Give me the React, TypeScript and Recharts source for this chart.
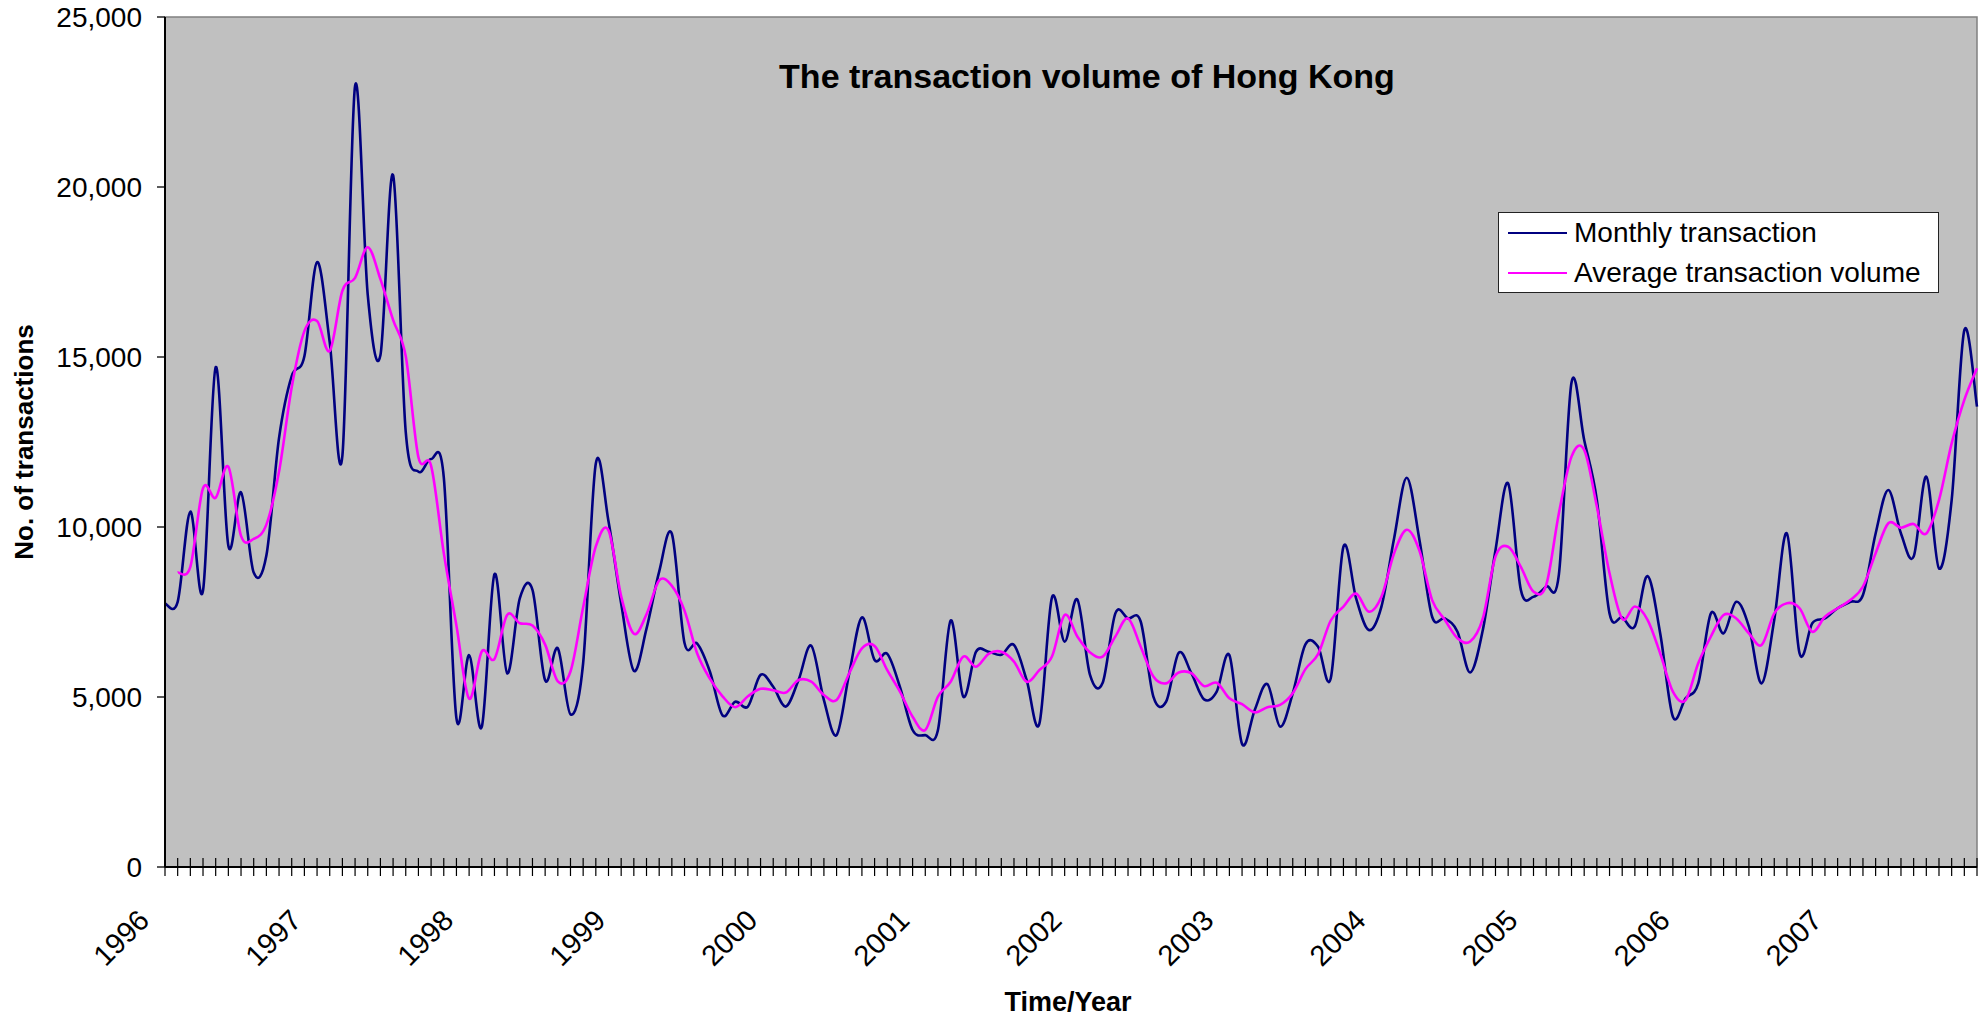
import React from 'react';
import { LineChart, Line, XAxis, YAxis, CartesianGrid, ReferenceArea } from 'recharts';

const years = ['1996', '1997', '1998', '1999', '2000', '2001', '2002', '2003', '2004', '2005', '2006', '2007'];
const categories: string[] = years.flatMap((y) =>
  Array.from({ length: 12 }, (_, m) => `${y}-${String(m + 1).padStart(2, '0')}`)
);
const yTicks = [0, 5000, 10000, 15000, 20000, 25000];

const monthlyTransaction = [
  7750, 7800, 10450, 8130, 14700, 9450, 11020, 8660, 9160, 12620, 14440, 15020,
  17790, 15430, 12100, 22970, 16830, 15050, 20350, 12790, 11630, 12000, 11470, 4370,
  6230, 4120, 8610, 5700, 7900, 8150, 5490, 6430, 4490, 6000, 11870, 10170,
  7750, 5770, 7010, 8690, 9800, 6590, 6570, 5750, 4460, 4860, 4720, 5650,
  5300, 4720, 5500, 6510, 4910, 3880, 5700, 7340, 6090, 6270, 5300, 4030,
  3880, 4030, 7250, 5010, 6330, 6330, 6240, 6530, 5500, 4210, 7930, 6630,
  7870, 5650, 5420, 7460, 7310, 7220, 5010, 4860, 6300, 5700, 4930, 5160,
  6230, 3620, 4620, 5380, 4130, 5110, 6550, 6480, 5550, 9420, 7900, 6970,
  7660, 9670, 11450, 9620, 7360, 7310, 6920, 5720, 6970, 9320, 11280, 8150,
  7950, 8250, 8590, 14250, 12560, 10790, 7460, 7340, 7080, 8560, 6870, 4420,
  4960, 5400, 7460, 6870, 7800, 7070, 5400, 7270, 9810, 6280, 7170, 7310,
  7610, 7800, 8000, 9810, 11090, 9810, 9130, 11480, 8780, 10790, 15790, 13540,
];

const averageVolume: (number | null)[] = [
  null, 8660, 8830, 11140, 10860, 11770, 9740, 9650, 10070, 11630, 14110, 15760,
  16060, 15180, 16950, 17330, 18230, 17290, 16090, 15020, 12050, 11800, 9240, 7100,
  4950, 6340, 6120, 7410, 7170, 7100, 6540, 5460, 5750, 7640, 9430, 9900,
  7960, 6860, 7430, 8430, 8270, 7540, 6280, 5540, 5020, 4700, 5020, 5240,
  5200, 5130, 5500, 5450, 5060, 4910, 5700, 6430, 6500, 5790, 5160, 4420,
  4030, 5010, 5450, 6190, 5890, 6270, 6330, 6040, 5450, 5790, 6190, 7410,
  6780, 6310, 6190, 6780, 7310, 6480, 5600, 5400, 5720, 5700, 5320, 5420,
  4960, 4790, 4550, 4700, 4770, 5110, 5820, 6260, 7250, 7660, 8040, 7510,
  7950, 9230, 9920, 9300, 7850, 7270, 6730, 6630, 7310, 9130, 9420, 8830,
  8100, 8290, 10400, 12070, 12270, 10600, 8640, 7300, 7660, 7270, 6280, 5160,
  4910, 5990, 6780, 7410, 7310, 6870, 6530, 7460, 7760, 7610, 6920, 7360,
  7610, 7850, 8250, 9230, 10110, 9980, 10090, 9810, 10790, 12460, 13740, 14670,
];

const data = categories.map((c, i) => ({
  month: c,
  monthly: monthlyTransaction[i],
  average: averageVolume[i],
}));

const FONT = '"Liberation Sans", Arial, Helvetica, sans-serif';
const NAVY = '#000080';
const MAGENTA = '#FF00FF';

// Excel-like smoothed line (Catmull-Rom through every point)
function excelSmooth(context: any) {
  let pts: number[][] = [];
  return {
    areaStart() {},
    areaEnd() {},
    lineStart() {
      pts = [];
    },
    point(x: number, y: number) {
      pts.push([+x, +y]);
    },
    lineEnd() {
      const n = pts.length;
      if (!n) return;
      context.moveTo(pts[0][0], pts[0][1]);
      for (let i = 0; i < n - 1; i++) {
        const p0 = pts[i - 1] || pts[i];
        const p1 = pts[i];
        const p2 = pts[i + 1];
        const p3 = pts[i + 2] || pts[i + 1];
        context.bezierCurveTo(
          p1[0] + (p2[0] - p0[0]) / 6,
          p1[1] + (p2[1] - p0[1]) / 6,
          p2[0] - (p3[0] - p1[0]) / 6,
          p2[1] - (p3[1] - p1[1]) / 6,
          p2[0],
          p2[1]
        );
      }
    },
  };
}

const XTick = (props: any) => {
  const { x, y, payload } = props;
  const v: string = String(payload.value);
  const isYear = v.endsWith('-01');
  const ax = x - 14;
  const ay = y + 55;
  return (
    <g>
      <line x1={x} x2={x} y1={y - 9} y2={y + 9} stroke="#000" strokeWidth={1.2} />
      {isYear && (
        <text
          x={ax}
          y={ay}
          textAnchor="end"
          transform={`rotate(-45, ${ax}, ${ay})`}
          fontSize={29}
          fontFamily={FONT}
          fill="#000"
        >
          {v.slice(0, 4)}
        </text>
      )}
    </g>
  );
};

const fmt = (v: number) => v.toLocaleString('en-US');

export default function App() {
  return (
    <div
      style={{
        position: 'absolute',
        left: 0,
        top: 0,
        width: 1984,
        height: 1017,
        background: '#fff',
        overflow: 'hidden',
        fontFamily: FONT,
      }}
    >
      <LineChart
        width={1984}
        height={1017}
        data={data}
        margin={{ top: 17, right: 7, bottom: 0, left: 0 }}
      >
        <CartesianGrid fill="#C0C0C0" horizontal={false} vertical={false} stroke="none" />
        <ReferenceArea
          x1={categories[0]}
          x2={categories[categories.length - 1]}
          y1={0}
          y2={25000}
          fill="none"
          stroke="#808080"
          strokeWidth={1.5}
        />
        <XAxis
          dataKey="month"
          interval={0}
          height={150}
          tickSize={0}
          tickMargin={0}
          tickLine={false}
          tick={<XTick />}
          axisLine={{ stroke: '#000', strokeWidth: 2 }}
        />
        <YAxis
          width={165}
          domain={[0, 25000]}
          ticks={yTicks}
          tickFormatter={fmt}
          tickSize={8}
          tickMargin={15}
          tickLine={{ stroke: '#000', strokeWidth: 1.3 }}
          axisLine={{ stroke: '#000', strokeWidth: 2 }}
          tick={{ fontSize: 28, fill: '#000', fontFamily: FONT }}
          interval={0}
        />
        <Line
          dataKey="monthly"
          type={excelSmooth as any}
          stroke={NAVY}
          strokeWidth={2.6}
          dot={false}
          activeDot={false}
          isAnimationActive={false}
        />
        <Line
          dataKey="average"
          type={excelSmooth as any}
          stroke={MAGENTA}
          strokeWidth={2.6}
          dot={false}
          activeDot={false}
          isAnimationActive={false}
        />
      </LineChart>

      {/* Title */}
      <div
        style={{
          position: 'absolute',
          left: 1087 - 500,
          top: 59,
          width: 1000,
          textAlign: 'center',
          fontSize: 34,
          lineHeight: '34px',
          fontWeight: 'bold',
          color: '#000',
          whiteSpace: 'nowrap',
        }}
      >
        The transaction volume of Hong Kong
      </div>

      {/* X axis title */}
      <div
        style={{
          position: 'absolute',
          left: 1068 - 200,
          top: 989,
          width: 400,
          textAlign: 'center',
          fontSize: 27,
          lineHeight: '27px',
          fontWeight: 'bold',
          color: '#000',
          whiteSpace: 'nowrap',
        }}
      >
        Time/Year
      </div>

      {/* Y axis title */}
      <div
        style={{
          position: 'absolute',
          left: 24 - 200,
          top: 442 - 13,
          width: 400,
          height: 26,
          textAlign: 'center',
          fontSize: 26,
          lineHeight: '26px',
          fontWeight: 'bold',
          color: '#000',
          whiteSpace: 'nowrap',
          transform: 'rotate(-90deg)',
        }}
      >
        No. of transactions
      </div>

      {/* Legend */}
      <div
        style={{
          position: 'absolute',
          left: 1498,
          top: 212,
          width: 441,
          height: 81,
          boxSizing: 'border-box',
          border: '1.5px solid #222',
          background: '#fff',
        }}
      >
        {[
          { label: 'Monthly transaction', color: NAVY },
          { label: 'Average transaction volume', color: MAGENTA },
        ].map((item, k) => (
          <div
            key={item.label}
            style={{
              position: 'absolute',
              left: 0,
              top: 0 + k * 40,
              height: 40,
              width: '100%',
              display: 'flex',
              alignItems: 'center',
            }}
          >
            <div style={{ marginLeft: 9, width: 59, height: 2.6, background: item.color }} />
            <div style={{ marginLeft: 7, fontSize: 28, lineHeight: '28px', color: '#000', whiteSpace: 'nowrap' }}>
              {item.label}
            </div>
          </div>
        ))}
      </div>
    </div>
  );
}
